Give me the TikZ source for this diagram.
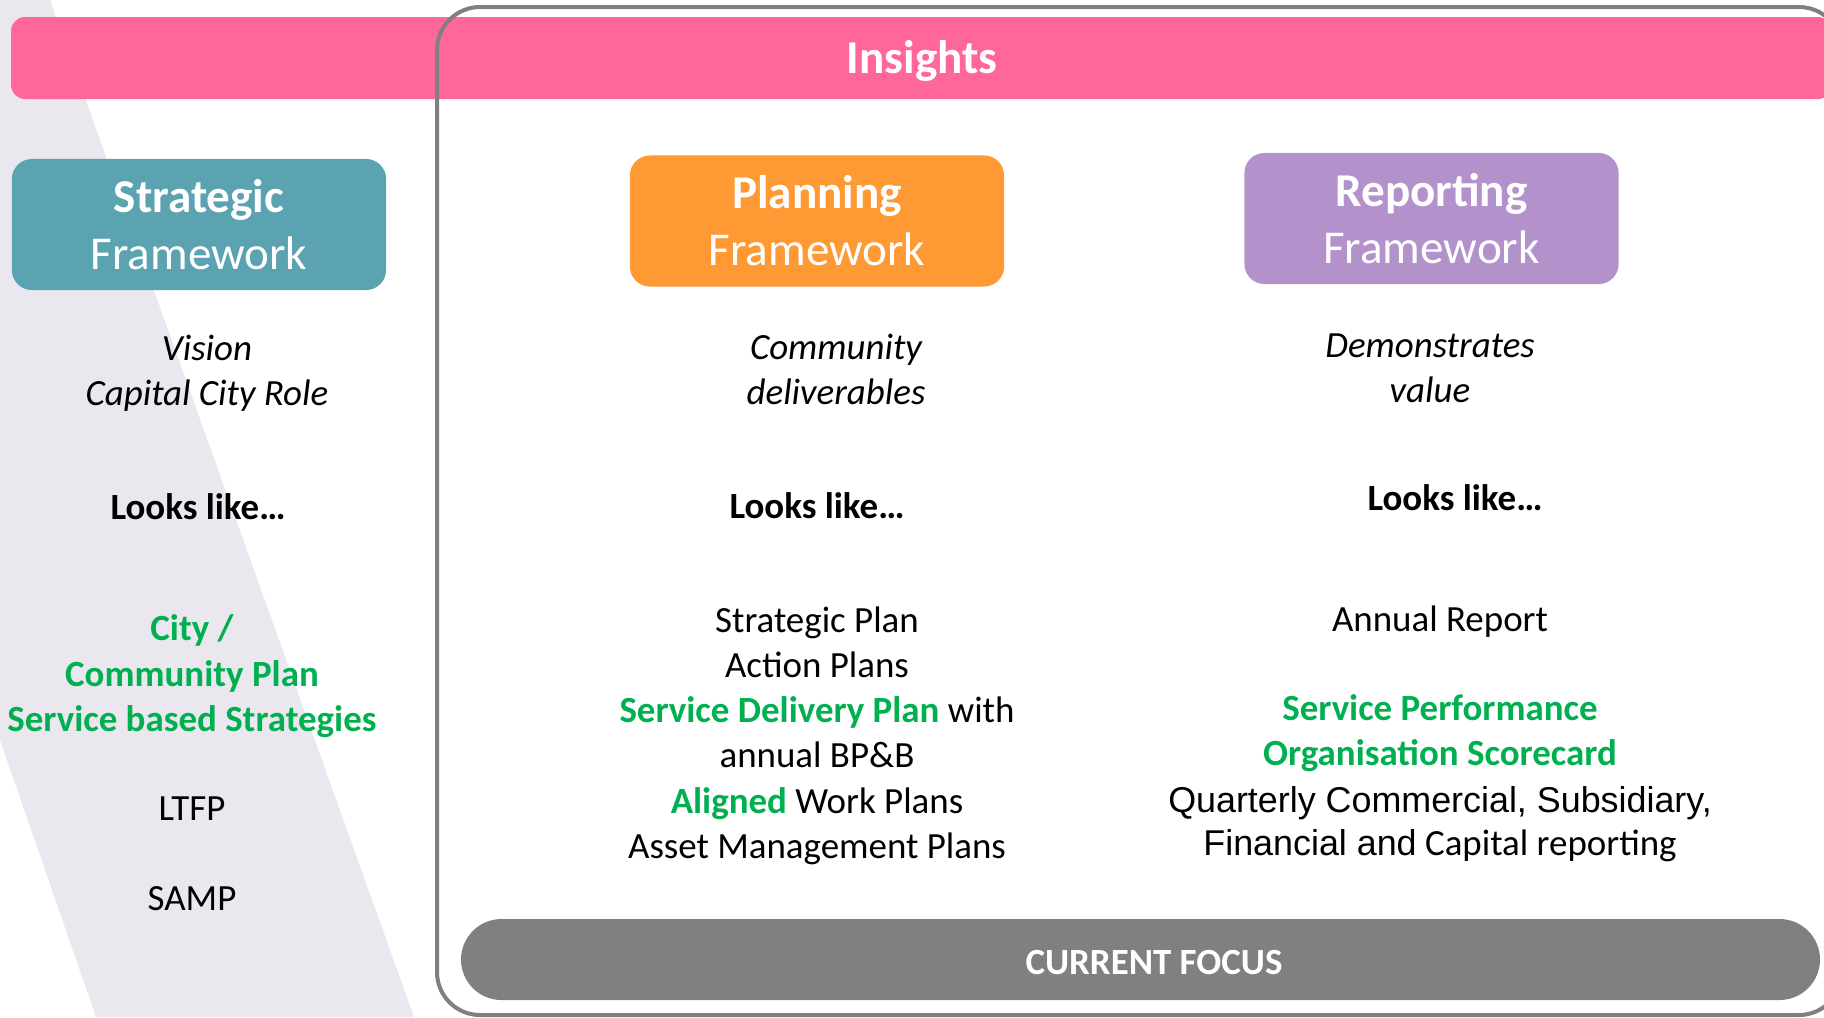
\documentclass[tikz,border=0pt]{standalone}
\usepackage{fontspec}
\setmainfont{Carlito}
\newfontfamily\arialfont{Liberation Sans}
\usetikzlibrary{positioning}
\definecolor{cpink}{HTML}{FF6699}
\definecolor{cteal}{HTML}{5BA3B0}
\definecolor{corange}{HTML}{FF9933}
\definecolor{cpurple}{HTML}{B392CC}
\definecolor{cgreen}{HTML}{00B050}
\definecolor{cgrey}{HTML}{808080}
\definecolor{cband}{HTML}{EBE7EF}
\newcommand{\hdrfont}{\fontsize{13.4pt}{16.2pt}\selectfont}
\newcommand{\bodyfont}{\fontsize{10.5pt}{12.8pt}\selectfont}
\newcommand{\grn}[1]{\textcolor{cgreen}{\bfseries #1}}
\tikzset{
  hdr/.style={
    fill=#1, text=white, rounded corners=0.2cm, inner sep=0pt,
    minimum width=3.74cm, minimum height=1.31cm, align=center, font=\hdrfont
  },
  % base anchor sits on the last line of a multi-line node
  txt/.style={align=center, inner sep=0pt, anchor=base, font=\bodyfont},
  why/.style={txt, font=\bodyfont\itshape},
  looks/.style={txt, font=\bodyfont\bfseries},
  keydoc/.style={txt, text=cgreen, font=\bodyfont\bfseries}
}
\begin{document}
\begin{tikzpicture}[x=0.01cm, y=-0.01cm]
  \clip (0,0) rectangle (1824,1017);
  % slanted backdrop band
  \fill[cband] (0,0) -- (50,0) -- (414,1017) -- (96,1017) -- (0,740) -- cycle;
  % insights bar
  \fill[cpink, rounded corners=0.14cm] (11,17) rectangle (1832,99);
  \node[font=\hdrfont\bfseries, text=white, anchor=base] (insights) at (922,73) {Insights};
  % current focus frame
  \draw[cgrey, line width=0.04cm, rounded corners=0.43cm] (437,7) rectangle (1842,1015);
  % framework headers
  \foreach \n/\x/\y/\c/\a in {strat/199/224.5/cteal/Strategic,
      plan/817/221/corange/Planning, rep/1431.5/218.5/cpurple/Reporting}
    \node[hdr=\c] (\n) at (\x,\y) {{\bfseries \a}\\Framework};
  % strategic column
  \node[why] (strat-why) at (207,405) {Vision\\Capital City Role};
  \node[looks] (strat-looks) at (198,519) {Looks like…};
  \node[keydoc] (strat-plans) at (192,731) {City /\\Community Plan\\Service based Strategies};
  \node[txt] (strat-ltfp) at (192,820) {LTFP};
  \node[txt] (strat-samp) at (192,910) {SAMP};
  % planning column
  \node[why] (plan-why) at (836,404) {Community\\deliverables};
  \node[looks] (plan-looks) at (817,518) {Looks like…};
  \node[txt] (plan-docs) at (817,858) {Strategic Plan\\Action Plans\\
    \grn{Service Delivery Plan} with\\annual BP\&B\\\grn{Aligned} Work Plans\\
    Asset Management Plans};
  % reporting column
  \node[why] (rep-why) at (1430,402) {Demonstrates\\value};
  \node[looks] (rep-looks) at (1455,510) {Looks like…};
  \node[txt] (rep-annual) at (1440,631) {Annual Report};
  \node[keydoc] (rep-perf) at (1440,765) {Service Performance\\Organisation Scorecard};
  \node[txt, font=\fontsize{10.5pt}{12.2pt}\selectfont] (rep-qtr) at (1440,855)
    {{\arialfont\fontsize{10.2pt}{12.2pt}\selectfont Quarterly Commercial, Subsidiary,}\\
     {\arialfont\fontsize{10.2pt}{12.2pt}\selectfont Financial and} Capital reporting};
  % focus bar
  \fill[cgrey, rounded corners=0.405cm] (461,919) rectangle (1820,1000);
  \node[font=\bodyfont\bfseries, text=white, anchor=base] (focus) at (1154,974) {CURRENT FOCUS};
\end{tikzpicture}
\end{document}
